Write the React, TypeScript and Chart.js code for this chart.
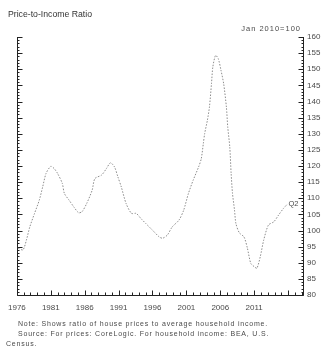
import React, { useEffect, useRef } from "react";
import { Chart, registerables } from "chart.js";

Chart.register(...registerables);

const years = [
  1976.2, 1976.9, 1977.4, 1977.9, 1978.6, 1979.3, 1979.8, 1980.3, 1981.0, 1981.5,
  1982.0, 1982.7, 1983.0, 1983.7, 1984.4, 1985.1, 1985.6, 1986.3, 1987.1, 1987.5,
  1988.5, 1989.2, 1989.8, 1990.4, 1990.9, 1991.4, 1992.1, 1992.9, 1993.6, 1994.3,
  1995.0, 1996.0, 1997.0, 1997.5, 1998.2, 1998.9, 1999.9, 2000.6, 2001.3, 2002.0,
  2002.8, 2003.2, 2003.5, 2003.7, 2004.1, 2004.4, 2004.7, 2004.9, 2005.3, 2005.7,
  2006.1, 2006.5, 2006.9, 2007.1, 2007.4, 2007.6, 2007.8, 2008.1, 2008.3, 2008.8,
  2009.5, 2010.0, 2010.5, 2011.0, 2011.4, 2011.9, 2012.4, 2013.1, 2013.9, 2014.6,
  2015.3, 2015.9,
];
const ratio = [
  94.5, 94.0, 97.0, 101.1, 105.3, 109.4, 113.5, 117.7, 119.9, 119.2,
  117.7, 114.6, 111.5, 109.4, 107.3, 105.5, 105.8, 108.4, 112.5, 116.1,
  117.2, 119.2, 121.0, 119.7, 116.6, 113.5, 108.4, 105.3, 105.3, 103.7,
  102.2, 100.1, 98.0, 97.6, 98.6, 101.1, 103.2, 106.3, 111.5, 115.6,
  119.7, 122.3, 127.0, 130.1, 134.2, 138.3, 145.5, 150.7, 154.3, 153.3,
  149.7, 145.5, 138.3, 132.1, 125.9, 117.7, 111.5, 106.3, 102.2, 99.3,
  98.0, 94.5, 89.8, 88.8, 88.3, 91.9, 97.0, 101.7, 102.7, 104.8,
  106.8, 108.2,
];
const xLabelYears = [1976, 1981, 1986, 1991, 1996, 2001, 2006, 2011];
const title = "Price-to-Income Ratio";
const unitNote = "Jan 2010=100";
const endLabel = "Q2";
const notes = [
  "Note: Shows ratio of house prices to average household income.",
  "Source: For prices: CoreLogic. For household income: BEA, U.S.",
  "Census.",
];

const FONT = "'Liberation Sans', Arial, sans-serif";
const TXT = "#4a4a4a";

const framePlugin = {
  id: "frame",
  afterDraw(chart: any) {
    const { ctx, chartArea, scales } = chart;
    const x = scales.x;
    const y = scales.y;
    ctx.save();
    ctx.strokeStyle = "#222";
    ctx.lineWidth = 1;
    ctx.beginPath();
    const L = Math.round(chartArea.left) + 0.5;
    const R = Math.round(chartArea.right) + 0.5;
    const B = Math.round(chartArea.bottom) + 0.5;
    ctx.moveTo(L, chartArea.top);
    ctx.lineTo(L, B);
    ctx.lineTo(R, B);
    ctx.lineTo(R, chartArea.top);
    for (let v = y.min; v <= y.max; v += 1) {
      const py = Math.round(y.getPixelForValue(v)) + 0.5;
      const len = v % 5 === 0 ? 5 : 2;
      ctx.moveTo(L, py);
      ctx.lineTo(L + len, py);
      ctx.moveTo(R, py);
      ctx.lineTo(R - len, py);
    }
    for (let v = Math.ceil(x.min); v <= x.max; v += 1) {
      const px = Math.round(x.getPixelForValue(v)) + 0.5;
      const len = (v - 1976) % 5 === 0 ? 5 : 3;
      ctx.moveTo(px, B);
      ctx.lineTo(px, B - len);
    }
    ctx.stroke();

    ctx.fillStyle = "#333";
    ctx.font = `8.7px ${FONT}`;
    ctx.textBaseline = "alphabetic";
    ctx.textAlign = "left";
    ctx.fillText(title, 8, 17);

    ctx.fillStyle = TXT;
    ctx.font = `7.5px ${FONT}`;
    (ctx as any).letterSpacing = "1px";
    ctx.textAlign = "right";
    ctx.fillText(unitNote, 301, 31);

    const lx = x.getPixelForValue(years[years.length - 1]);
    const ly = y.getPixelForValue(ratio[ratio.length - 1]);
    (ctx as any).letterSpacing = "0px";
    ctx.textAlign = "left";
    ctx.textBaseline = "middle";
    ctx.fillText(endLabel, lx + 1, ly);

    ctx.textBaseline = "alphabetic";
    ctx.font = `7px ${FONT}`;
    (ctx as any).letterSpacing = "0.8px";
    ctx.fillText(notes[0], 18, 326);
    ctx.fillText(notes[1], 18, 336);
    ctx.fillText(notes[2], 6, 346);
    ctx.restore();
  },
};

export default function App() {
  const ref = useRef<HTMLCanvasElement>(null);
  useEffect(() => {
    if (!ref.current) return;
    const chart = new Chart(ref.current, {
      type: "line",
      data: {
        datasets: [
          {
            data: years.map((yr, i) => ({ x: yr, y: ratio[i] })),
            borderColor: "#8c8c8c",
            borderWidth: 1,
            borderDash: [1.5, 1.5],
            pointRadius: 0,
            tension: 0.25,
            fill: false,
          },
        ],
      },
      options: {
        responsive: false,
        animation: false,
        layout: { padding: { left: 12, top: 37, right: 0, bottom: 0 } },
        plugins: { legend: { display: false }, tooltip: { enabled: false }, title: { display: false } },
        scales: {
          x: {
            type: "linear",
            min: 1976,
            max: 2018.2,
            border: { display: false },
            grid: { display: false, drawTicks: false },
            afterFit: (s: any) => { s.height = 57; },
            afterBuildTicks: (s: any) => {
              s.ticks = xLabelYears.map((v) => ({ value: v }));
            },
            ticks: {
              autoSkip: false,
              maxRotation: 0,
              padding: 8,
              color: TXT,
              font: { size: 8, family: FONT },
              callback: (v: any) => String(v),
            },
          },
          y: {
            position: "right",
            min: 80,
            max: 160,
            border: { display: false },
            grid: { display: false, drawTicks: false },
            afterFit: (s: any) => { s.width = 24; },
            ticks: {
              stepSize: 5,
              padding: 4,
              color: TXT,
              font: { size: 8, family: FONT },
            },
          },
        },
      },
      plugins: [framePlugin],
    });
    return () => chart.destroy();
  }, []);
  return (
    <div style={{ position: "fixed", left: 0, top: 0, width: 327, height: 352, background: "#fff" }}>
      <canvas ref={ref} width={327} height={352} style={{ display: "block" }} />
    </div>
  );
}
